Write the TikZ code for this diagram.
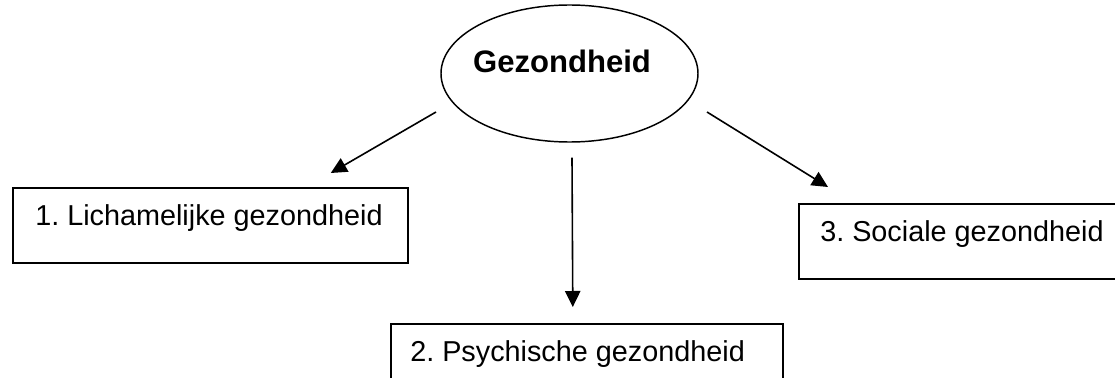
\documentclass[tikz,border=0pt]{standalone}
\usepackage{fontspec}
\setmainfont{Liberation Sans}
\usetikzlibrary{shapes.geometric,arrows.meta}
\frenchspacing
\tikzset{
  boxshape/.style={draw=black, line width=1.2pt, rectangle, inner sep=0pt, anchor=north west},
  lbl/.style={font=\fontsize{21.6pt}{24pt}\selectfont, inner sep=0pt, anchor=base west},
  ttl/.style={font=\fontsize{23.3pt}{26pt}\selectfont\bfseries, inner sep=0pt, anchor=base},
  ell/.style={draw=black, line width=1.1pt, ellipse, inner sep=0pt, minimum width=192.75pt, minimum height=102.75pt},
  arr/.style={line width=1.2pt, -{Triangle[length=12pt, width=11.5pt]}}
}
\begin{document}
\begin{tikzpicture}[x=0.75pt, y=-0.75pt]
\useasboundingbox (0,0) rectangle (1115,378);
\clip (0,0) rectangle (1115,378);
\fill[white] (0,0) rectangle (1115,378);
% ellipse
\node[ell] (e) at (569.5,73.5) {};
\node[ttl] (g) at (562,72.5) {Gezondheid};
% boxes
\node[boxshape, minimum width=296.25pt, minimum height=56.25pt] (b1) at (12,187) {};
\node[boxshape, minimum width=294pt, minimum height=52.5pt] (b2) at (390,323) {};
\node[boxshape, minimum width=245.25pt, minimum height=56.25pt] (b3) at (798,203) {};
% labels
\node[lbl] (t1) at ([shift={(23,38)}]b1.north west) {1. Lichamelijke gezondheid};
\node[lbl] (t2) at ([shift={(20,38.5)}]b2.north west) {2. Psychische gezondheid};
\node[lbl] (t3) at ([shift={(22,38.5)}]b3.north west) {3. Sociale gezondheid};
% arrows
\draw[arr] ([shift={(-133.5,38.5)}]e.center) -- ([shift={(120.5,-14)}]b1.north);
\draw[arr] ([shift={(2.5,15)}]e.south) -- ([shift={(-14,-16)}]b2.north);
\draw[arr] ([shift={(137.5,38.5)}]e.center) -- ([shift={(30,-16)}]b3.north west);
\end{tikzpicture}
\end{document}
